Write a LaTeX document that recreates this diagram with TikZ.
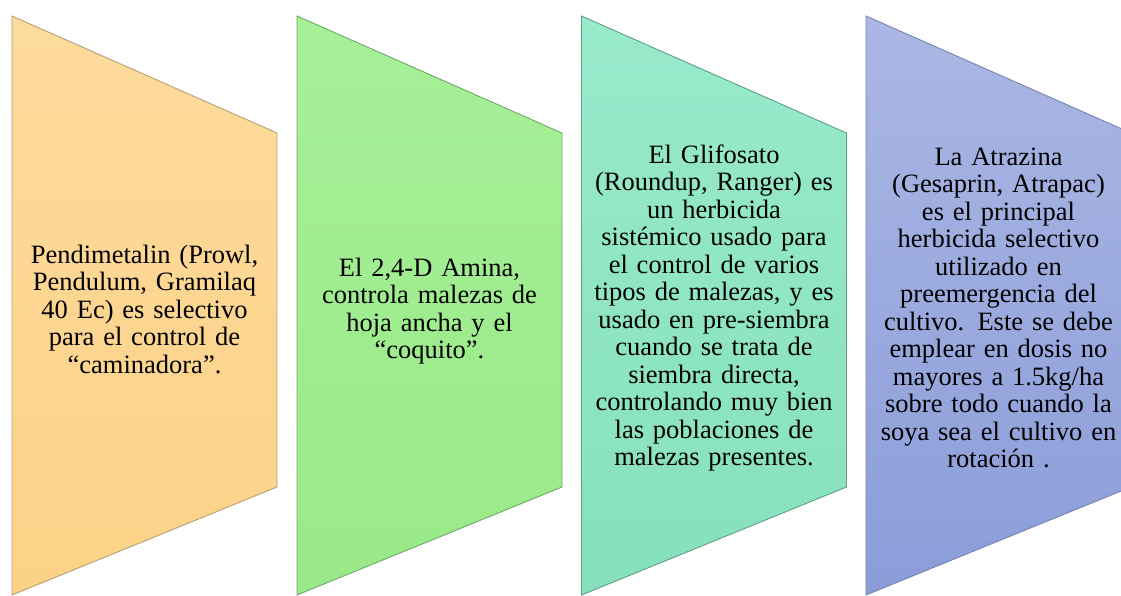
\documentclass[tikz,border=0pt]{standalone}
\usepackage{fontspec}
\setmainfont{Liberation Serif}
\newfontfamily\tnr{Liberation Serif}
\definecolor{orT}{HTML}{FDDB9C}
\definecolor{orB}{HTML}{FCD287}
\definecolor{orE}{HTML}{B5A075}
\definecolor{grT}{HTML}{A6F098}
\definecolor{grB}{HTML}{9AE988}
\definecolor{grE}{HTML}{6FA868}
\definecolor{tqT}{HTML}{98EACB}
\definecolor{tqB}{HTML}{86E0BC}
\definecolor{tqE}{HTML}{5E9F88}
\definecolor{blT}{HTML}{ABB7E4}
\definecolor{blB}{HTML}{8A9DD9}
\definecolor{blE}{HTML}{7784B0}
\tikzset{
  panel/.style={line width=0.9pt, line join=miter},
  ptext/.style={align=center, text width=262pt, font=\tnr\fontsize{26.5pt}{27.5pt}\selectfont, inner sep=0pt, text=black}
}
\newcommand{\mypanel}[4]{%
  \path[panel, draw=#2, top color=#3, bottom color=#4]
    (#1,-16) -- (#1+265,-133) -- (#1+265,-487) -- (#1,-595) -- cycle;}
\begin{document}
\begin{tikzpicture}[x=1pt,y=1pt]
\useasboundingbox (0,0) rectangle (1121,-596);
\clip (0,0) rectangle (1121,-596);
\fill[white] (0,0) rectangle (1121,-596);
\mypanel{12}{orE}{orT}{orB}
\mypanel{297}{grE}{grT}{grB}
\mypanel{581.5}{tqE}{tqT}{tqB}
\mypanel{866}{blE}{blT}{blB}
\node[ptext] (t1) at (144.5,-309) {Pendimetalin (Prowl,\\ Pendulum, Gramilaq\\ 40 Ec) es selectivo\\ para el control de\\ “caminadora”.};
\node[ptext] (t2) at (429.5,-311) {El 2,4-D Amina,\\ controla malezas de\\ hoja ancha y el\\ “coquito”.};
\node[ptext] (t3) at (714,-308) {El Glifosato\\ (Roundup, Ranger) es\\ un herbicida\\ sistémico usado para\\ el control de varios\\ tipos de malezas, y es\\ usado en pre-siembra\\ cuando se trata de\\ siembra directa,\\ controlando muy bien\\ las poblaciones de\\ malezas presentes.};
\node[ptext] (t4) at (998.5,-308) {La Atrazina\\ (Gesaprin, Atrapac)\\ es el principal\\ herbicida selectivo\\ utilizado en\\ preemergencia del\\ cultivo. Este se debe\\ emplear en dosis no\\ mayores a 1.5kg/ha\\ sobre todo cuando la\\ soya sea el cultivo en\\ rotación .};
\end{tikzpicture}
\end{document}
